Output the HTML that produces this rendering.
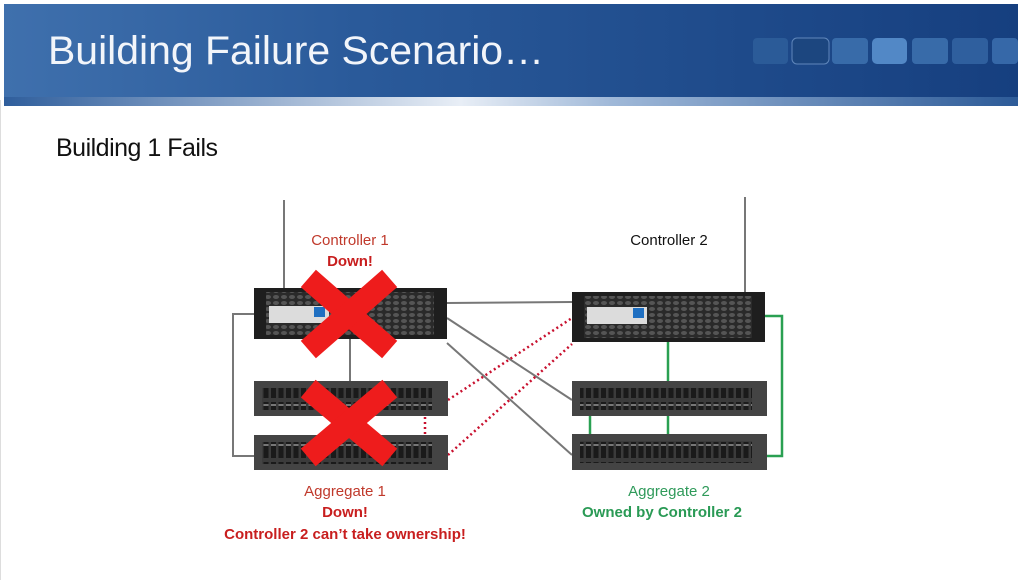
<!DOCTYPE html>
<html><head><meta charset="utf-8"><style>
html,body{margin:0;padding:0;background:#fff;}
body{width:1024px;height:580px;overflow:hidden;position:relative;font-family:"Liberation Sans",sans-serif;}
</style></head><body>
<svg width="1024" height="580" viewBox="0 0 1024 580" xmlns="http://www.w3.org/2000/svg" style="position:absolute;left:0;top:0">
<defs>
<linearGradient id="hdr" x1="0" y1="0" x2="1" y2="0">
<stop offset="0" stop-color="#3f70ad"/><stop offset="0.35" stop-color="#2a5a9a"/><stop offset="1" stop-color="#163f7f"/>
</linearGradient>
<linearGradient id="glow" x1="0" y1="0" x2="1" y2="0">
<stop offset="0" stop-color="#2f5e9c"/><stop offset="0.45" stop-color="#e8eef6"/><stop offset="0.6" stop-color="#9fb8d8"/><stop offset="1" stop-color="#2d5b98"/>
</linearGradient>
<pattern id="hex" width="8" height="6" patternUnits="userSpaceOnUse">
<rect width="8" height="6" fill="#2a2a2a"/>
<ellipse cx="4" cy="3" rx="3" ry="2" fill="#555"/>
</pattern>
<pattern id="bays" width="7.5" height="20" patternUnits="userSpaceOnUse">
<rect width="7.5" height="20" fill="#3b3b3b"/>
<rect x="1" y="2" width="5" height="16" fill="#1a1a1a"/>
<rect x="1" y="4" width="5" height="2" fill="#777"/>
</pattern>
</defs>
<rect x="0" y="0" width="1024" height="580" fill="#fff"/>
<rect x="4" y="4" width="1014" height="100" fill="url(#hdr)"/>
<rect x="4" y="97" width="1014" height="9" fill="url(#glow)"/>
<text x="48" y="64" font-family="Liberation Sans, sans-serif" font-size="40" fill="#f2f5fa" textLength="496" lengthAdjust="spacingAndGlyphs">Building Failure Scenario…</text>
<g>
<rect x="753" y="38" width="35" height="26" rx="4" fill="#2b5b98"/>
<rect x="792" y="38" width="37" height="26" rx="5" fill="#1c467f" stroke="#5f86bb" stroke-width="1"/>
<rect x="832" y="38" width="36" height="26" rx="4" fill="#386ba9"/>
<rect x="872" y="38" width="35" height="26" rx="5" fill="#5288c6"/>
<rect x="912" y="38" width="36" height="26" rx="4" fill="#386ba9"/>
<rect x="952" y="38" width="36" height="26" rx="4" fill="#2f5f9e"/>
<rect x="992" y="38" width="26" height="26" rx="4" fill="#3668a8"/>
</g>
<rect x="1018" y="0" width="6" height="580" fill="#fff"/>
<line x1="0.5" y1="100" x2="0.5" y2="580" stroke="#ddd"/>
<text x="56" y="156" font-size="25" fill="#111" letter-spacing="-0.5">Building 1 Fails</text>

<g stroke="#777" stroke-width="2" fill="none">
<line x1="284" y1="200" x2="284" y2="290"/>
<line x1="745" y1="197" x2="745" y2="293"/>
<polyline points="254,314 233,314 233,456 254,456"/>
<line x1="350" y1="339" x2="350" y2="381"/>
<line x1="447" y1="303" x2="572" y2="302"/>
<line x1="447" y1="318" x2="572" y2="400"/>
<line x1="447" y1="343" x2="572" y2="455"/>
</g>
<g stroke="#2aa052" stroke-width="2.5" fill="none">
<polyline points="765,316 782,316 782,456 767,456"/>
<line x1="668" y1="342" x2="668" y2="381"/>
<line x1="668" y1="416" x2="668" y2="434"/>
<line x1="590" y1="416" x2="590" y2="434"/>
</g>
<g stroke="#c8102e" stroke-width="2.5" stroke-dasharray="2,3" fill="none">
<line x1="448" y1="400" x2="572" y2="318"/>
<line x1="448" y1="455" x2="572" y2="344"/>
<line x1="425" y1="417" x2="425" y2="435"/>
</g>

<g>
<rect x="254" y="288" width="193" height="51" fill="#1e1e1e"/>
<rect x="266" y="292" width="168" height="43" fill="url(#hex)"/>
<rect x="269" y="306" width="60" height="17" fill="#dcdcdc"/>
<rect x="314" y="307" width="11" height="10" fill="#1f6fc1"/>
</g>
<g>
<rect x="572" y="292" width="193" height="50" fill="#1e1e1e"/>
<rect x="584" y="296" width="168" height="42" fill="url(#hex)"/>
<rect x="587" y="307" width="60" height="17" fill="#dcdcdc"/>
<rect x="633" y="308" width="11" height="10" fill="#1f6fc1"/>
</g>
<g>
<rect x="254" y="381" width="194" height="35" fill="#444"/>
<rect x="262" y="388" width="170" height="22" fill="url(#bays)"/>
<rect x="254" y="435" width="194" height="35" fill="#444"/>
<rect x="262" y="442" width="170" height="22" fill="url(#bays)"/>
<rect x="572" y="381" width="195" height="35" fill="#444"/>
<rect x="580" y="388" width="172" height="22" fill="url(#bays)"/>
<rect x="572" y="434" width="195" height="36" fill="#444"/>
<rect x="580" y="441" width="172" height="22" fill="url(#bays)"/>
</g>
<g stroke="#ee1c1c" stroke-width="23" stroke-linecap="square">
<line x1="317" y1="286" x2="381" y2="342"/>
<line x1="381" y1="286" x2="317" y2="342"/>
<line x1="317" y1="396" x2="381" y2="450"/>
<line x1="381" y1="396" x2="317" y2="450"/>
</g>

<g font-size="15" text-anchor="middle">
<text x="350" y="245" fill="#c0392b">Controller 1</text>
<text x="350" y="266" fill="#c81e1e" font-weight="bold">Down!</text>
<text x="669" y="245" fill="#111">Controller 2</text>
<text x="345" y="496" fill="#c0392b">Aggregate 1</text>
<text x="345" y="517" fill="#c81e1e" font-weight="bold">Down!</text>
<text x="345" y="539" fill="#c81e1e" font-weight="bold">Controller 2 can’t take ownership!</text>
<text x="669" y="496" fill="#2f9a5a">Aggregate 2</text>
<text x="662" y="517" fill="#2a9a55" font-weight="bold">Owned by Controller 2</text>
</g>
</svg>
</body></html>
